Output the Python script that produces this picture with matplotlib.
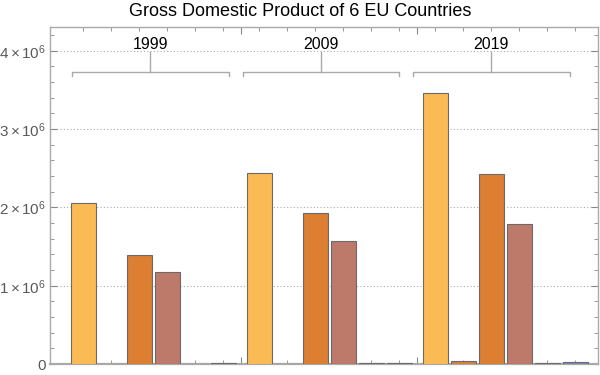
import numpy as np
import matplotlib
matplotlib.use("Agg")
import matplotlib.pyplot as plt
from matplotlib.ticker import FixedLocator, MultipleLocator

plt.rcParams['font.family'] = ['Liberation Sans', 'DejaVu Sans']
plt.rcParams['mathtext.fontset'] = 'custom'
plt.rcParams['mathtext.rm'] = 'Liberation Sans'
plt.rcParams['mathtext.it'] = 'Liberation Sans'

# data (GDP, million EUR)
years = ['1999', '2009', '2019']
countries = ['Germany', 'Estonia', 'France', 'Italy', 'Latvia', 'Lithuania']
germany = [2.05e6, 2.44e6, 3.465e6]
estonia = [0.006e6, 0.0, 0.035e6]
france = [1.39e6, 1.93e6, 2.43e6]
italy = [1.17e6, 1.57e6, 1.79e6]
latvia = [0.006e6, 0.012e6, 0.012e6]
lithuania = [0.008e6, 0.016e6, 0.025e6]
colors = ['#FBBB54', '#DB8236', '#DC7F33', '#BD796A', '#6E607A', '#7F88C2']
yticks = [0, 1e6, 2e6, 3e6, 4e6]
ytick_labels = ['0', r'$1\times10^{6}$', r'$2\times10^{6}$', r'$3\times10^{6}$', r'$4\times10^{6}$']

series = [germany, estonia, france, italy, latvia, lithuania]
n = len(countries)
gpitch = 176 / 28
width = 0.89

fig = plt.figure(figsize=(6, 3.75), dpi=100)
ax = fig.add_axes([50 / 600, 11 / 375, 548 / 600, 337 / 375])

centers = []
for g in range(len(years)):
    for i in range(n):
        x = g * gpitch + i
        centers.append(x)
        ax.bar(x, series[i][g], width=width, color=colors[i],
               edgecolor='#6a6a6a', linewidth=0.8, zorder=3)

ax.set_xlim(-1.196, 18.375)
ax.set_ylim(0, 4.304e6)

# group separators
seps = [(g * gpitch + n - 1 + (g + 1) * gpitch) / 2 for g in range(len(years) - 1)]

ax.xaxis.set_major_locator(FixedLocator(seps))
ax.xaxis.set_minor_locator(FixedLocator(centers))
ax.tick_params(axis='x', which='both', direction='in', top=True, bottom=True,
               labelbottom=False, color='#888888')
ax.tick_params(axis='x', which='major', length=5, width=0.8)
ax.tick_params(axis='x', which='minor', length=3, width=0.6)

ax.set_yticks(yticks)
ax.set_yticklabels(ytick_labels)
ax.yaxis.set_minor_locator(MultipleLocator(0.2e6))
ax.tick_params(axis='y', which='both', direction='in', left=True, right=True,
               color='#888888', labelcolor='#5a5a5a', labelsize=11)
ax.tick_params(axis='y', which='major', length=5, width=0.8, pad=3)
ax.tick_params(axis='y', which='minor', length=3, width=0.6)

ax.grid(axis='y', which='major', linestyle=(0, (1, 2)), color='#aaaaaa',
        linewidth=0.8, zorder=0)
for s in ax.spines.values():
    s.set_color('#aaaaaa')
    s.set_linewidth(1.0)
ax.spines['bottom'].set_linewidth(1.6)

# brackets with year labels
bpitch = 6.09
bwidth = 5.59
for g, yr in enumerate(years):
    x0 = -0.41 + g * bpitch
    x1 = x0 + bwidth
    xc = (x0 + x1) / 2
    ax.plot([x0, x0, x1, x1], [3.68e6, 3.733e6, 3.733e6, 3.68e6],
            color='#aaaaaa', linewidth=1.0, zorder=4)
    ax.plot([xc, xc], [3.733e6, 3.98e6], color='#aaaaaa', linewidth=1.0, zorder=4)
    ax.text(xc, 3.99e6, yr, ha='center', va='bottom', fontsize=11.5, color='black', zorder=5)

fig.text(0.5, 1 - 12 / 375, 'Gross Domestic Product of 6 EU Countries',
         ha='center', va='center', fontsize=13)

fig.savefig('out.png', dpi=100)
